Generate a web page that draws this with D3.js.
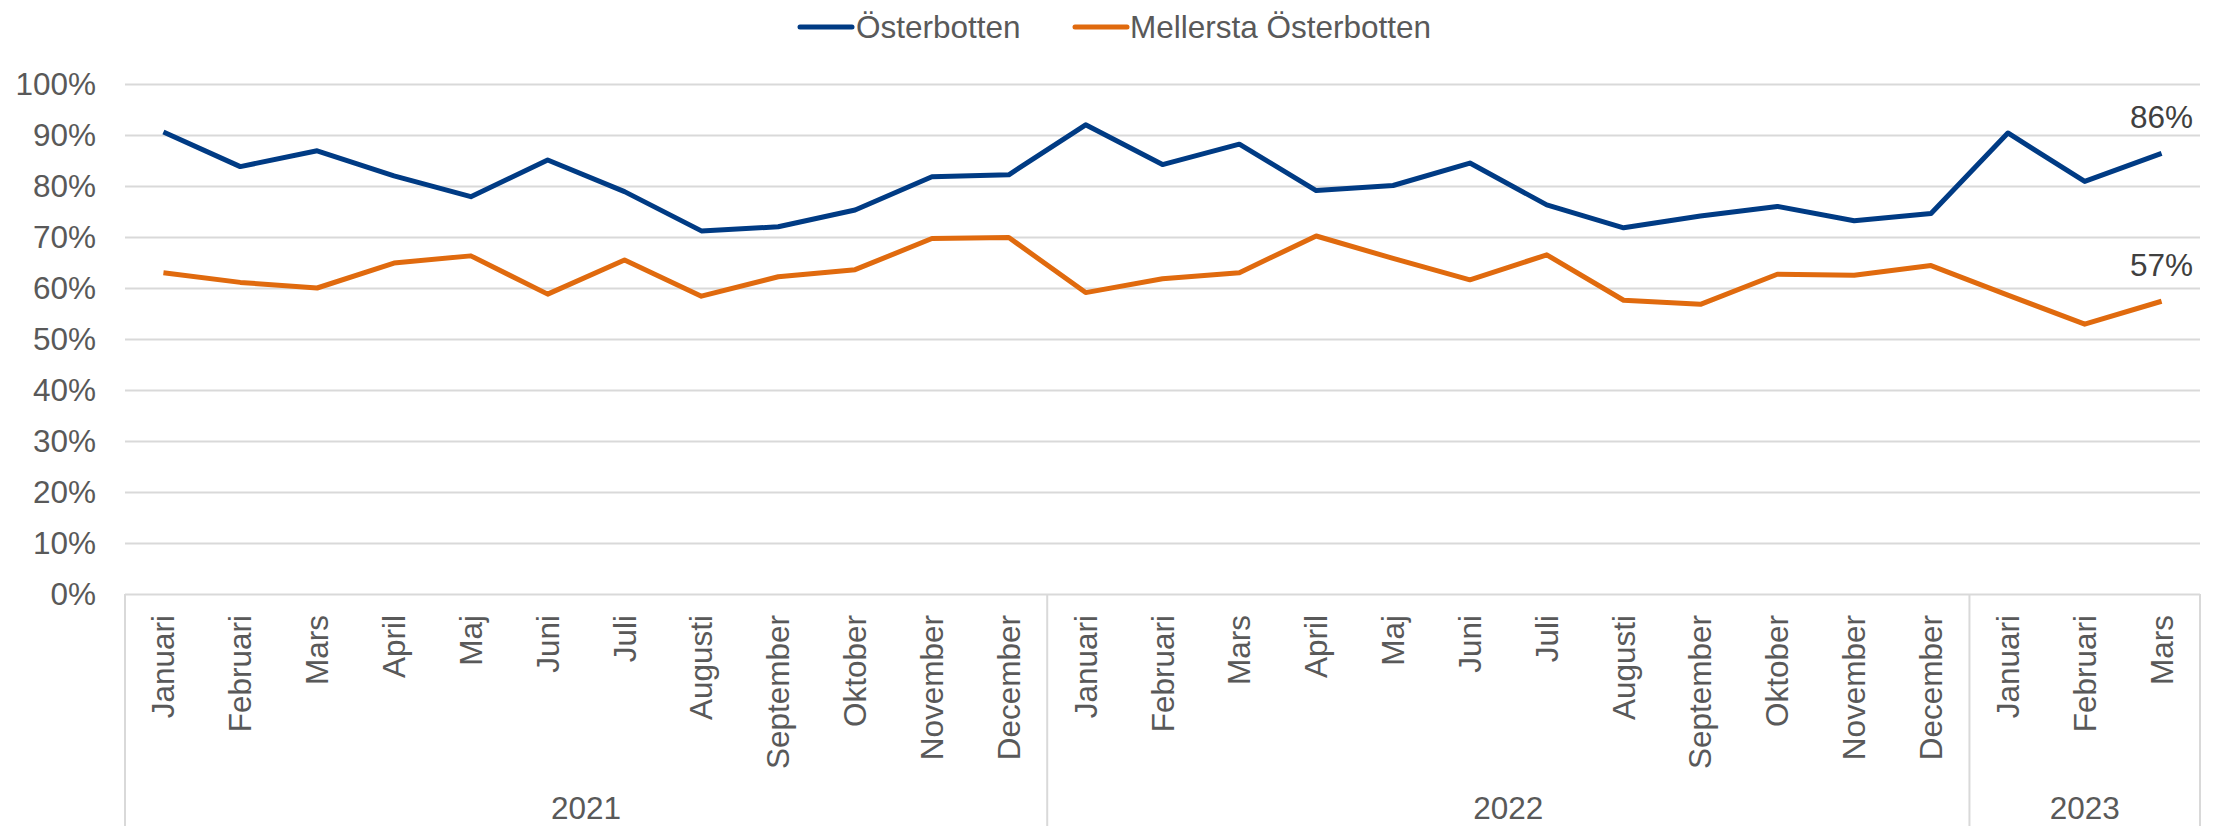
<!DOCTYPE html>
<html>
<head>
<meta charset="utf-8">
<script src="https://cdn.jsdelivr.net/npm/d3@7"></script>
<style>
  body { margin: 0; background: #fff; }
  svg text { font-family: "Liberation Sans", Arial, sans-serif; fill: #595959; }
</style>
</head>
<body>
<div id="vis"></div>
<script>
// Data
var months = ["Januari", "Februari", "Mars", "April", "Maj", "Juni", "Juli",
    "Augusti", "September", "Oktober", "November", "December"];
var years = ["2021", "2022", "2023"];
var monthsPerYear = [12, 12, 3];

var osterbotten = [90.6, 83.8, 86.9, 82.0, 77.9, 85.1, 78.9, 71.2, 72.0, 75.3, 81.8, 82.2,
    92.0, 84.2, 88.2, 79.1, 80.1, 84.5, 76.3, 71.8, 74.1, 76.0, 73.2, 74.6,
    90.4, 80.9, 86.4];
var mellersta = [63.0, 61.1, 60.0, 64.9, 66.3, 58.8, 65.5, 58.4, 62.2, 63.6, 69.7, 69.9,
    59.1, 61.8, 63.0, 70.2, 65.8, 61.6, 66.5, 57.6, 56.8, 62.7, 62.5, 64.4,
    58.6, 52.9, 57.4];

var seriesNames = ["Österbotten", "Mellersta Österbotten"];
var seriesColors = ["#003B84", "#E06A0E"];
var yTicks = [0, 10, 20, 30, 40, 50, 60, 70, 80, 90, 100];

// Layout
var width = 2226, height = 826;
var plotLeft = 125, plotRight = 2200, plotTop = 84, plotBottom = 594;

var svg = d3.select("#vis").append("svg")
    .attr("width", width)
    .attr("height", height);

// Build the category list from months and years
var categories = [];
years.forEach(function(yr, yi) {
    for (var m = 0; m < monthsPerYear[yi]; m++) {
        categories.push({ key: yr + "-" + m, month: months[m], year: yr });
    }
});

var x = d3.scaleBand()
    .domain(categories.map(function(d) { return d.key; }))
    .range([plotLeft, plotRight])
    .padding(0);

var y = d3.scaleLinear()
    .domain([0, 100])
    .range([plotBottom, plotTop]);

// Gridlines and y labels
var yAxis = svg.append("g")
    .attr("transform", "translate(" + plotLeft + ",0)")
    .call(d3.axisLeft(y)
        .tickValues(yTicks)
        .tickSize(-(plotRight - plotLeft))
        .tickPadding(29)
        .tickFormat(function(d) { return d + "%"; }));
yAxis.select(".domain").remove();
yAxis.selectAll(".tick line").attr("stroke", "#D9D9D9").attr("stroke-width", 2);
yAxis.selectAll(".tick text")
    .attr("font-size", "31.5px")
    .style("font-family", "'Liberation Sans', Arial, sans-serif")
    .attr("fill", "#595959");

// Category separators below the axis
var sepLines = [plotLeft];
var count = 0;
monthsPerYear.forEach(function(n) {
    count += n;
    var k = categories[count - 1].key;
    sepLines.push(x(k) + x.bandwidth());
});
svg.append("g").selectAll("line")
    .data(sepLines)
    .enter().append("line")
    .attr("x1", function(d) { return d; })
    .attr("x2", function(d) { return d; })
    .attr("y1", plotBottom)
    .attr("y2", height)
    .attr("stroke", "#D9D9D9")
    .attr("stroke-width", 2);

// Month labels (rotated)
svg.append("g").selectAll("text")
    .data(categories)
    .enter().append("text")
    .attr("transform", function(d) {
        return "translate(" + (x(d.key) + x.bandwidth() / 2) + "," + (plotBottom + 21) + ") rotate(-90)";
    })
    .attr("text-anchor", "end")
    .attr("dy", "0.35em")
    .attr("font-size", "31.5px")
    .text(function(d) { return d.month; });

// Year labels
var yStart = 0;
years.forEach(function(yr, i) {
    var first = categories[yStart].key;
    var last = categories[yStart + monthsPerYear[i] - 1].key;
    var cx = (x(first) + x(last) + x.bandwidth()) / 2;
    svg.append("text")
        .attr("x", cx)
        .attr("y", 819)
        .attr("text-anchor", "middle")
        .attr("font-size", "31.5px")
        .text(yr);
    yStart += monthsPerYear[i];
});

// Lines
var line = d3.line()
    .x(function(d, i) { return x(categories[i].key) + x.bandwidth() / 2; })
    .y(function(d) { return y(d); });

[osterbotten, mellersta].forEach(function(values, si) {
    svg.append("path")
        .datum(values)
        .attr("d", line)
        .attr("fill", "none")
        .attr("stroke", seriesColors[si])
        .attr("stroke-width", 5)
        .attr("stroke-linejoin", "round");

    // Label on the last point
    var li = values.length - 1;
    svg.append("text")
        .attr("x", x(categories[li].key) + x.bandwidth() / 2)
        .attr("y", y(values[li]) - 25)
        .attr("text-anchor", "middle")
        .attr("font-size", "31.5px")
        .style("fill", "#404040")
        .text(Math.round(values[li]) + "%");
});

// Legend
var legendItems = [{ x: 800, tx: 856 }, { x: 1075, tx: 1130 }];
seriesNames.forEach(function(name, i) {
    var g = svg.append("g");
    g.append("line")
        .attr("x1", legendItems[i].x)
        .attr("x2", legendItems[i].x + 52)
        .attr("y1", 27)
        .attr("y2", 27)
        .attr("stroke", seriesColors[i])
        .attr("stroke-width", 5)
        .attr("stroke-linecap", "round");
    g.append("text")
        .attr("x", legendItems[i].tx)
        .attr("y", 27)
        .attr("dy", "0.35em")
        .attr("font-size", "31.5px")
        .text(name);
});
</script>
</body>
</html>
